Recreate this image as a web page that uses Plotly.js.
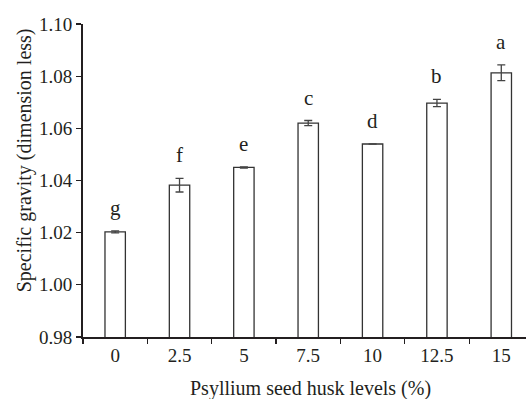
<!DOCTYPE html>
<html>
<head>
<meta charset="utf-8">
<script src="https://cdn.plot.ly/plotly-3.0.1.min.js"></script>
<style>html,body{margin:0;padding:0;background:#fff;}#chart{width:526px;height:399px;}</style>
</head>
<body>
<div id="chart"></div>
<script>
const levels = ["0", "2.5", "5", "7.5", "10", "12.5", "15"];
const specificGravity = [1.0203, 1.0382, 1.0450, 1.0620, 1.0540, 1.0697, 1.0813];
const errors = [0.0004, 0.0026, 0.0002, 0.0010, 0.0000, 0.0014, 0.0030];
const letters = ["g", "f", "e", "c", "d", "b", "a"];

const ink = "#231f20";
const fontFam = "Liberation Serif, Times New Roman, serif";

const trace = {
  type: "bar",
  x: levels,
  y: specificGravity,
  width: 0.317,
  marker: {color: "#ffffff", line: {color: "#333333", width: 1.3}},
  error_y: {type: "data", array: errors, visible: true, color: "#444444", thickness: 1.3, width: 4}
};

const annotations = letters.map((t, i) => ({
  x: i, y: specificGravity[i] + errors[i], xref: "x", yref: "y",
  text: t, showarrow: false, yanchor: "bottom", yshift: 9,
  font: {family: fontFam, size: 21, color: ink}
}));

annotations.push({
  xref: "paper", yref: "paper", x: -0.132, y: 0.563,
  text: "Specific gravity (dimension less)", textangle: -90, showarrow: false,
  xanchor: "center", yanchor: "middle",
  font: {family: fontFam, size: 20, color: ink}
});
annotations.push({
  xref: "paper", yref: "paper", x: 0.513, y: -0.165,
  text: "Psyllium seed husk levels (%)", showarrow: false,
  xanchor: "center", yanchor: "middle",
  font: {family: fontFam, size: 20, color: ink}
});

const layout = {
  width: 526, height: 399,
  margin: {l: 83, r: 0, t: 24, b: 62},
  paper_bgcolor: "#ffffff", plot_bgcolor: "#ffffff",
  showlegend: false,
  font: {family: fontFam, size: 19, color: ink},
  xaxis: {
    type: "category", range: [-0.5, 6.384],
    showline: true, linecolor: ink, linewidth: 2,
    ticks: "outside", tickson: "boundaries", ticklen: 5, tickwidth: 1.2, tickcolor: ink,
    showgrid: false, zeroline: false,
    tickfont: {family: fontFam, size: 19, color: ink}
  },
  yaxis: {
    range: [0.98, 1.10], dtick: 0.02, tick0: 0.98, tickformat: ".2f",
    showline: true, linecolor: ink, linewidth: 2,
    ticks: "outside", ticklen: 5, tickwidth: 1.2, tickcolor: ink,
    showgrid: false, zeroline: false,
    tickfont: {family: fontFam, size: 19, color: ink}
  },
  annotations: annotations
};

Plotly.newPlot("chart", [trace], layout, {displayModeBar: false, staticPlot: true});
</script>
</body>
</html>
